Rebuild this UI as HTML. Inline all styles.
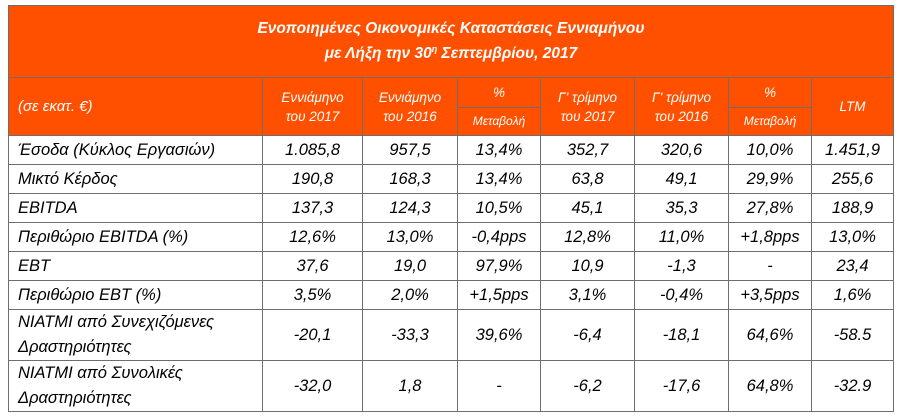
<!DOCTYPE html>
<html><head><meta charset="utf-8">
<style>
body{margin:0;width:901px;height:420px;background:#fff;overflow:hidden;font-family:"Liberation Sans","DejaVu Sans",sans-serif;}
table{position:absolute;left:8px;top:5px;border-collapse:collapse;table-layout:fixed;width:886px;}
td{border:1px solid #6e6e6e;padding:0;font-style:italic;text-align:center;color:#000;font-size:16.5px;overflow:hidden;white-space:nowrap;}
td.l{text-align:left;padding-left:9px;}
.title td{background:#ff5000;color:#fff;font-weight:bold;font-size:15.5px;line-height:21px;height:71px;}
.hd td{background:#ff5000;color:#fff;font-size:13.5px;line-height:19px;}
.hd td.l{font-size:15px;}
.hd td.s{font-size:12px;}
tr.r td{height:28px;}
tr.r2 td{height:49px;line-height:25px;}
</style></head><body>
<table>
<colgroup><col style="width:254px"><col style="width:100px"><col style="width:95px"><col style="width:83px"><col style="width:94px"><col style="width:94px"><col style="width:83px"><col style="width:82px"></colgroup>
<tr class="title"><td colspan="8">Ενοποιημένες Οικονομικές Καταστάσεις Εννιαμήνου<br>με Λήξη την 30<sup style="font-size:9px">η</sup> Σεπτεμβρίου, 2017</td></tr>
<tr class="hd">
<td class="l" rowspan="2" style="height:57px">(σε εκατ. €)</td>
<td rowspan="2">Εννιάμηνο<br>του 2017</td>
<td rowspan="2">Εννιάμηνο<br>του 2016</td>
<td style="height:29px">%</td>
<td rowspan="2">Γ' τρίμηνο<br>του 2017</td>
<td rowspan="2">Γ' τρίμηνο<br>του 2016</td>
<td>%</td>
<td rowspan="2">LTM</td>
</tr>
<tr class="hd"><td class="s" style="height:27px">Μεταβολή</td><td class="s">Μεταβολή</td></tr>
<tr class="r"><td class="l">Έσοδα (Κύκλος Εργασιών)</td><td>1.085,8</td><td>957,5</td><td>13,4%</td><td>352,7</td><td>320,6</td><td>10,0%</td><td>1.451,9</td></tr>
<tr class="r"><td class="l">Μικτό Κέρδος</td><td>190,8</td><td>168,3</td><td>13,4%</td><td>63,8</td><td>49,1</td><td>29,9%</td><td>255,6</td></tr>
<tr class="r"><td class="l">EBITDA</td><td>137,3</td><td>124,3</td><td>10,5%</td><td>45,1</td><td>35,3</td><td>27,8%</td><td>188,9</td></tr>
<tr class="r"><td class="l">Περιθώριο EBITDA (%)</td><td>12,6%</td><td>13,0%</td><td>-0,4pps</td><td>12,8%</td><td>11,0%</td><td>+1,8pps</td><td>13,0%</td></tr>
<tr class="r"><td class="l">EBT</td><td>37,6</td><td>19,0</td><td>97,9%</td><td>10,9</td><td>-1,3</td><td>-</td><td>23,4</td></tr>
<tr class="r"><td class="l">Περιθώριο EBT (%)</td><td>3,5%</td><td>2,0%</td><td>+1,5pps</td><td>3,1%</td><td>-0,4%</td><td>+3,5pps</td><td>1,6%</td></tr>
<tr class="r2"><td class="l">NIATMI από Συνεχιζόμενες<br>Δραστηριότητες</td><td>-20,1</td><td>-33,3</td><td>39,6%</td><td>-6,4</td><td>-18,1</td><td>64,6%</td><td>-58.5</td></tr>
<tr class="r2"><td class="l">NIATMI από Συνολικές<br>Δραστηριότητες</td><td>-32,0</td><td>1,8</td><td>-</td><td>-6,2</td><td>-17,6</td><td>64,8%</td><td>-32.9</td></tr>
</table>
</body></html>
